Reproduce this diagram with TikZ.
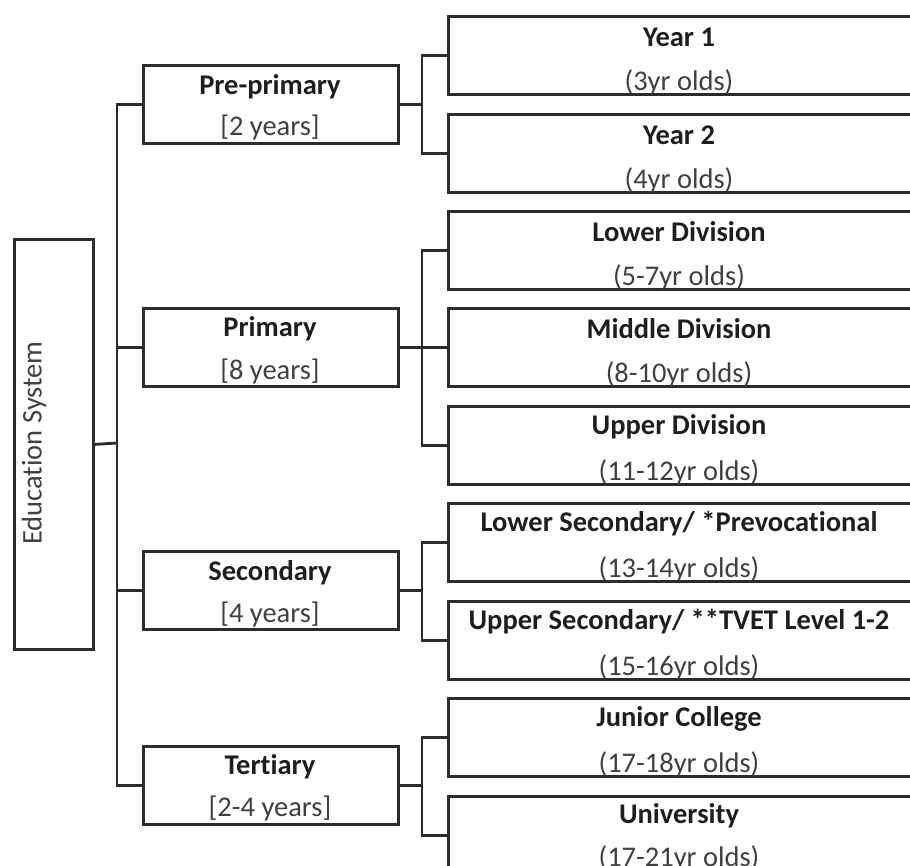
\documentclass[tikz,border=0pt]{standalone}
\usepackage{fontspec}
\setmainfont[Ligatures=NoCommon]{Carlito}
\definecolor{linec}{HTML}{2B2B2B}
\definecolor{titc}{HTML}{1E1E1E}
\definecolor{subc}{HTML}{404040}
\begin{document}
\begin{tikzpicture}[x=1pt,y=-1pt,
  ln/.style={draw=linec,line width=2.8pt},
  boxbase/.style={draw=linec,line width=2.8pt,fill=white,anchor=north west,inner sep=0pt},
  midbox/.style={boxbase,minimum width=255pt,minimum height=78pt},
  kidbox/.style={boxbase,minimum width=467pt,minimum height=78pt},
  ttl/.style={text=titc,font=\fontsize{28.5}{32}\selectfont\bfseries,inner sep=0pt},
  sub/.style={text=subc,font=\fontsize{28.5}{32}\selectfont,inner sep=0pt}]
\useasboundingbox (0,0) rectangle (910,866);
\clip (0,0) rectangle (910,866);
\fill[white] (0,0) rectangle (910,866);
% boxes
\node[boxbase,minimum width=79pt,minimum height=410pt] (edu) at (13,238) {};
\node[midbox] (pre) at (142,64) {};
\node[midbox] (pri) at (142,307) {};
\node[midbox] (sec) at (142,550) {};
\node[midbox] (ter) at (142,745) {};
\node[kidbox] (y1) at (447,15) {};
\node[kidbox] (y2) at (447,113) {};
\node[kidbox] (lo) at (447,210) {};
\node[kidbox] (mi) at (447,307) {};
\node[kidbox] (up) at (447,405) {};
\node[kidbox] (ls) at (447,502) {};
\node[kidbox] (us) at (447,600) {};
\node[kidbox] (jc) at (447,697) {};
\node[kidbox] (un) at (447,795) {};
% connectors
\coordinate (tr) at (117,443);
\coordinate (br) at (422,443);
\draw[ln] (edu.east) -- (tr);
\draw[ln] (pre.west) -- (pre.west -| tr) -- (ter.west -| tr) -- (ter.west);
\draw[ln] (pri.west) -- (pri.west -| tr);
\draw[ln] (sec.west) -- (sec.west -| tr);
\draw[ln] (pre.east) -- (pre.east -| br);
\draw[ln] (y1.west) -- (y1.west -| br) -- (y2.west -| br) -- (y2.west);
\draw[ln] (pri.east) -- (pri.east -| br);
\draw[ln] (lo.west) -- (lo.west -| br) -- (up.west -| br) -- (up.west);
\draw[ln] (mi.west) -- (mi.west -| br);
\draw[ln] (sec.east) -- (sec.east -| br);
\draw[ln] (ls.west) -- (ls.west -| br) -- (us.west -| br) -- (us.west);
\draw[ln] (ter.east) -- (ter.east -| br);
\draw[ln] (jc.west) -- (jc.west -| br) -- (un.west -| br) -- (un.west);
% texts
\node[sub,rotate=90] (edut) at (34,443) {Education System};
\node[ttl] (pret) at (270,87) {Pre-primary};
\node[sub] (pres) at (270,128) {[2 years]};
\node[ttl] (prit) at (270,329) {Primary};
\node[sub] (pris) at (270,371) {[8 years]};
\node[ttl] (sect) at (270,573) {Secondary};
\node[sub] (secs) at (270,614) {[4 years]};
\node[ttl] (tert) at (270,767) {Tertiary};
\node[sub] (ters) at (270,808) {[2-4 years]};
\node[ttl] (y1t) at (679,37) {Year 1};
\node[sub] (y1s) at (679,82) {(3yr olds)};
\node[ttl] (y2t) at (679,135) {Year 2};
\node[sub] (y2s) at (679,180) {(4yr olds)};
\node[ttl] (lot) at (679,232) {Lower Division};
\node[sub] (los) at (679,277) {(5-7yr olds)};
\node[ttl] (mit) at (679,329) {Middle Division};
\node[sub] (mis) at (679,374) {(8-10yr olds)};
\node[ttl] (upt) at (679,427) {Upper Division};
\node[sub] (ups) at (679,472) {(11-12yr olds)};
\node[ttl] (lst) at (679,524) {Lower Secondary/ *Prevocational};
\node[sub] (lss) at (679,569) {(13-14yr olds)};
\node[ttl] (ust) at (679,622) {Upper Secondary/ **TVET Level 1-2};
\node[sub] (uss) at (679,667) {(15-16yr olds)};
\node[ttl] (jct) at (679,719) {Junior College};
\node[sub] (jcs) at (679,764) {(17-18yr olds)};
\node[ttl] (unt) at (679,816) {University};
\node[sub] (uns) at (679,858) {(17-21yr olds)};
\end{tikzpicture}
\end{document}
